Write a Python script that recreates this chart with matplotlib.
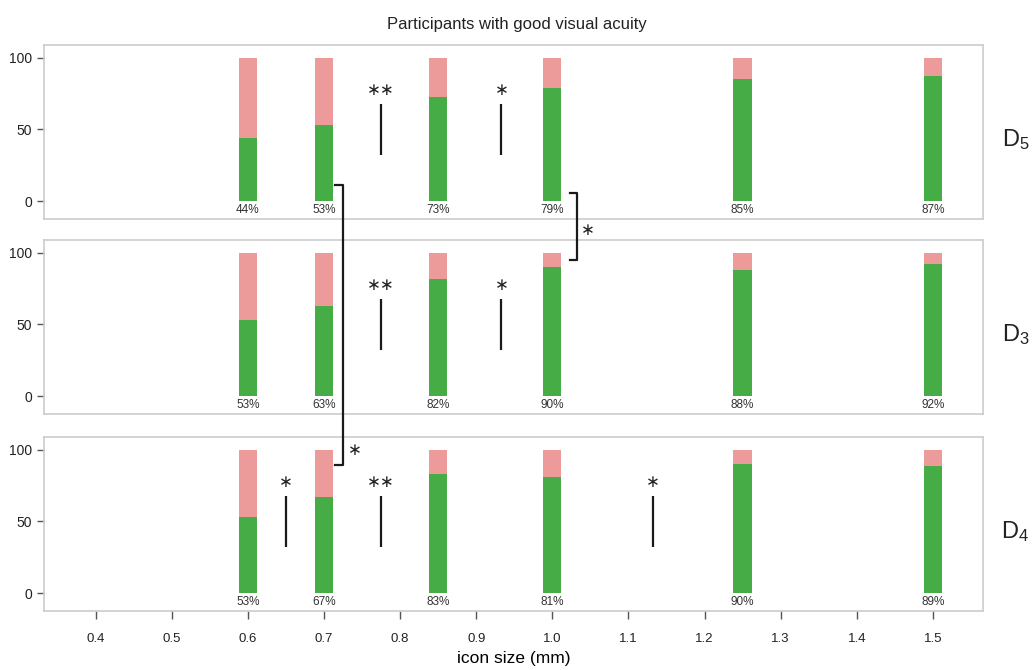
import matplotlib
matplotlib.use("Agg")
import matplotlib.pyplot as plt
from matplotlib.lines import Line2D

plt.rcParams['font.family'] = ['Liberation Sans', 'DejaVu Sans']
plt.rcParams['mathtext.fontset'] = 'custom'
plt.rcParams['mathtext.rm'] = 'Liberation Sans'

# icon sizes (mm) and share of participants with correct answers (%)
sizes = [0.6, 0.7, 0.85, 1.0, 1.25, 1.5]
panel_names = ["D_5", "D_3", "D_4"]
correct_d5 = [44, 53, 73, 79, 85, 87]
correct_d3 = [53, 63, 82, 90, 88, 92]
correct_d4 = [53, 67, 83, 81, 90, 89]
xticks = [0.4, 0.5, 0.6, 0.7, 0.8, 0.9, 1.0, 1.1, 1.2, 1.3, 1.4, 1.5]

# within-panel significance markers: (x position, stars)
sig_d5 = [(0.775, "**"), (0.933, "*")]
sig_d3 = [(0.775, "**"), (0.933, "*")]
sig_d4 = [(0.65, "*"), (0.775, "**"), (1.132, "*")]

GREEN = "#46ad46"
PINK = "#ec9a9a"
GRID = "#cccccc"

fig = plt.figure(figsize=(10.34, 6.70), dpi=100)

left, width = 0.0426, 0.9081
bottoms = [0.673, 0.382, 0.088]
height = 0.260

data = [correct_d5, correct_d3, correct_d4]
sigs = [sig_d5, sig_d3, sig_d4]
axes = []
for i, (vals, sig, name, b) in enumerate(zip(data, sigs, panel_names, bottoms)):
    ax = fig.add_axes([left, b, width, height])
    axes.append(ax)
    bw = 0.024
    ax.bar(sizes, vals, width=bw, color=GREEN, linewidth=0)
    ax.bar(sizes, [100 - v for v in vals], bottom=vals, width=bw,
           color=PINK, linewidth=0)
    for x, v in zip(sizes, vals):
        ax.text(x, -6.5, f"{v}%", ha="center", va="center", fontsize=8.5,
                color="#333333")
    for x, s in sig:
        ax.plot([x, x], [32, 68], color="#1a1a1a", lw=1.6, solid_capstyle="butt")
        ax.text(x, 77.5, s.replace("*", "∗"), ha="center", va="center",
                fontsize=12, color="#222222", family=["DejaVu Sans"])
    ax.set_xlim(0.332, 1.566)
    ax.set_ylim(-12.5, 109)
    ax.set_yticks([0, 50, 100])
    ax.set_xticks(xticks)
    for sp in ax.spines.values():
        sp.set_color(GRID)
        sp.set_linewidth(1.2)
    ax.tick_params(axis="y", colors="#555555", labelcolor="#222222",
                   labelsize=10, length=5, width=1)
    if i < 2:
        ax.tick_params(axis="x", bottom=False, labelbottom=False)
    else:
        ax.tick_params(axis="x", colors="#555555", labelcolor="#222222",
                       labelsize=9.5, length=6, width=1, pad=10)
        ax.set_xlabel("icon size (mm)", fontsize=12.5, labelpad=4)
    fig.text(0.982, b + height * 0.5 - 0.012, rf"$\mathrm{{{name}}}$",
             fontsize=17, ha="center", va="center", color="#222222")

fig.suptitle("Participants with good visual acuity", fontsize=12, y=0.975,
             color="#222222")

to_fig = fig.transFigure.inverted()


def fpt(ax, x, y):
    return to_fig.transform(ax.transData.transform((x, y)))


def bracket(ax_top, y_top, ax_bot, y_bot, x_line, x_tick, star_pos):
    p1 = fpt(ax_top, x_tick, y_top)
    p2 = fpt(ax_top, x_line, y_top)
    p3 = fpt(ax_bot, x_line, y_bot)
    p4 = fpt(ax_bot, x_tick, y_bot)
    fig.add_artist(Line2D([p1[0], p2[0], p3[0], p4[0]],
                          [p1[1], p2[1], p3[1], p4[1]],
                          transform=fig.transFigure, color="#1a1a1a", lw=1.6))
    ax_s, xs, ys = star_pos
    ps = fpt(ax_s, xs, ys)
    fig.text(ps[0], ps[1], "∗", fontsize=12, ha="center", va="center",
             color="#222222", family=["DejaVu Sans"])


# between-panel comparisons
bracket(axes[0], 11, axes[2], 89.5, 0.7246, 0.714, (axes[2], 0.741, 100))
bracket(axes[0], 5.5, axes[1], 95, 1.032, 1.023, (axes[1], 1.046, 116))

fig.savefig("out.png", dpi=100)
